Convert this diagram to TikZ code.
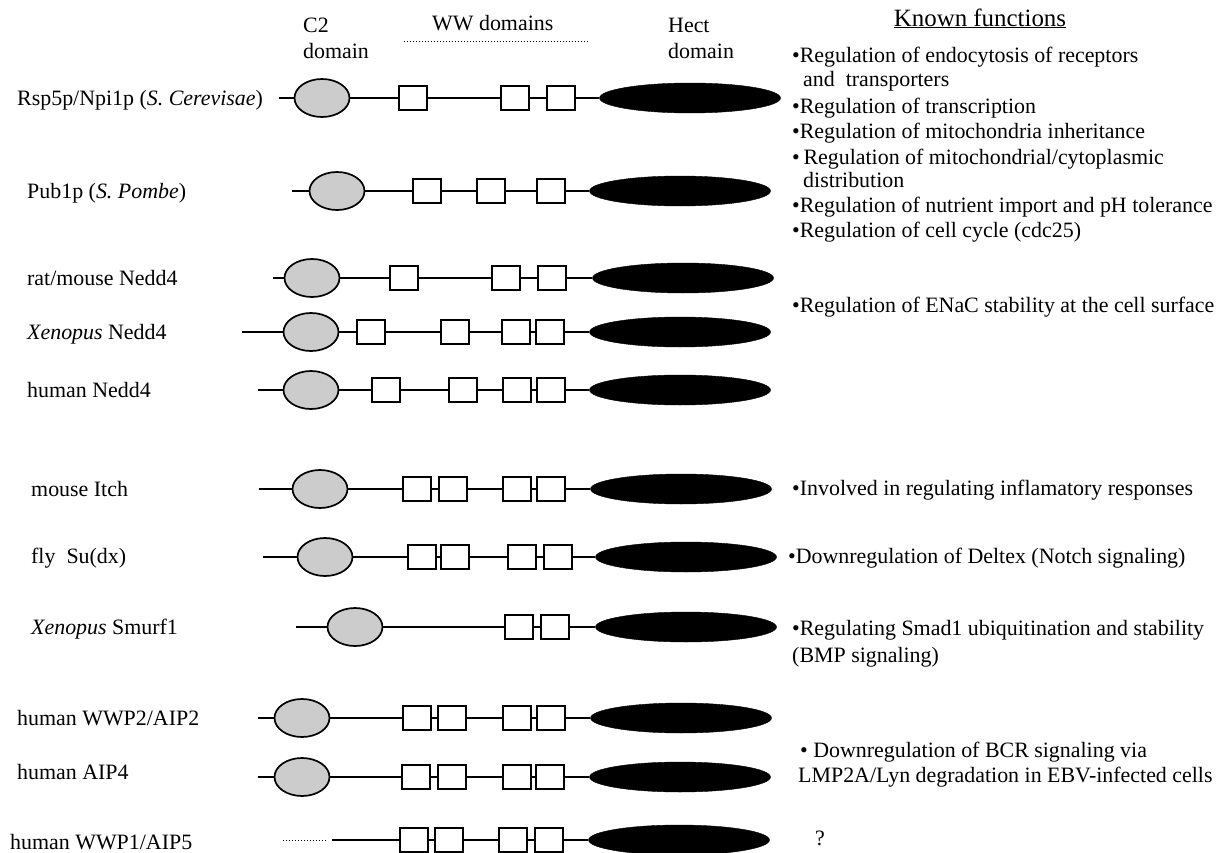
\documentclass[tikz,border=0pt]{standalone}
\usepackage{fontspec}
\setmainfont{Liberation Serif}
\usetikzlibrary{shapes.geometric}
\tikzset{
  txt/.style={inner sep=0pt, anchor=base west, font=\fontsize{22}{24}\selectfont},
  ln/.style={line width=1.8bp},
  ctwo/.style={ellipse, draw, line width=1.7bp, fill=black!20, minimum width=55bp, minimum height=38bp, inner sep=0pt},
  wwbox/.style={rectangle, draw, line width=1.7bp, fill=white, minimum width=28bp, minimum height=24bp, inner sep=0pt},
  hectel/.style={ellipse, fill=black, draw=black, minimum width=181bp, minimum height=30bp, inner sep=0pt},
}
\begin{document}
\begin{tikzpicture}[x=1bp,y=-1bp]
\useasboundingbox (0,0) rectangle (1225,853);
\fill[white] (0,0) rectangle (1225,853);

% header
\node[txt] (hc2a) at (303,32) {C2};
\node[txt] (hc2b) at (303,58) {domain};
\node[txt] (hww) at (432,30) {WW domains};
\coordinate (wwl) at (404,41);
\coordinate (wwr) at (589,41);
\draw[dotted, line width=1bp] (wwl) -- (wwr);
\node[txt] (hha) at (668,32) {Hect};
\node[txt] (hhb) at (668,58) {domain};
\node[txt, anchor=base, font=\fontsize{25}{27}\selectfont] (hkf) at (980,26) {\underline{Known functions}};

% row labels
\node[txt] (l1) at (17,105) {Rsp5p/Npi1p (\textit{S. Cerevisae})};
\node[txt] (l2) at (27,198) {Pub1p (\textit{S. Pombe})};
\node[txt] (l3) at (27,285) {rat/mouse Nedd4};
\node[txt] (l4) at (27,339) {\textit{Xenopus} Nedd4};
\node[txt] (l5) at (27,397) {human Nedd4};
\node[txt] (l6) at (31,496) {mouse Itch};
\node[txt] (l7) at (31,563) {fly\ \ Su(dx)};
\node[txt] (l8) at (31,634) {\textit{Xenopus} Smurf1};
\node[txt] (l9) at (17,725) {human WWP2/AIP2};
\node[txt] (l10) at (17,779) {human AIP4};
\node[txt] (l11) at (10,849) {human WWP1/AIP5};

% row 1
\coordinate (s1) at (279,98);
\node[ctwo] (r1c) at (322,98) {};
\node[wwbox] (r1b1) at (413,98) {};
\node[wwbox] (r1b2) at (515,98) {};
\node[wwbox] (r1b3) at (561,98) {};
\node[hectel] (r1h) at (690,98) {};
\draw[ln] (s1) -- (r1c) -- (r1b1) -- (r1b2) -- (r1b3) -- (r1h);

% row 2
\coordinate (s2) at (292,191);
\node[ctwo] (r2c) at (337,191) {};
\node[wwbox] (r2b1) at (427,191) {};
\node[wwbox] (r2b2) at (491,191) {};
\node[wwbox] (r2b3) at (551,191) {};
\node[hectel] (r2h) at (680,191) {};
\draw[ln] (s2) -- (r2c) -- (r2b1) -- (r2b2) -- (r2b3) -- (r2h);

% row 3
\coordinate (s3) at (273,278);
\node[ctwo] (r3c) at (312,278) {};
\node[wwbox] (r3b1) at (404,278) {};
\node[wwbox] (r3b2) at (506,278) {};
\node[wwbox] (r3b3) at (552,278) {};
\node[hectel] (r3h) at (683,278) {};
\draw[ln] (s3) -- (r3c) -- (r3b1) -- (r3b2) -- (r3b3) -- (r3h);

% row 4
\coordinate (s4) at (242,332);
\node[ctwo] (r4c) at (311,332) {};
\node[wwbox] (r4b1) at (371,332) {};
\node[wwbox] (r4b2) at (455,332) {};
\node[wwbox] (r4b3) at (516,332) {};
\node[wwbox] (r4b4) at (550,332) {};
\node[hectel] (r4h) at (680,332) {};
\draw[ln] (s4) -- (r4c) -- (r4b1) -- (r4b2) -- (r4b3) -- (r4b4) -- (r4h);

% row 5
\coordinate (s5) at (258,390);
\node[ctwo] (r5c) at (311,390) {};
\node[wwbox] (r5b1) at (386,390) {};
\node[wwbox] (r5b2) at (463,390) {};
\node[wwbox] (r5b3) at (517,390) {};
\node[wwbox] (r5b4) at (551,390) {};
\node[hectel] (r5h) at (680,390) {};
\draw[ln] (s5) -- (r5c) -- (r5b1) -- (r5b2) -- (r5b3) -- (r5b4) -- (r5h);

% row 6
\coordinate (s6) at (259,489);
\node[ctwo] (r6c) at (320,489) {};
\node[wwbox] (r6b1) at (417,489) {};
\node[wwbox] (r6b2) at (453,489) {};
\node[wwbox] (r6b3) at (517,489) {};
\node[wwbox] (r6b4) at (551,489) {};
\node[hectel] (r6h) at (681,489) {};
\draw[ln] (s6) -- (r6c) -- (r6b1) -- (r6b2) -- (r6b3) -- (r6b4) -- (r6h);

% row 7
\coordinate (s7) at (263,557);
\node[ctwo] (r7c) at (325,557) {};
\node[wwbox] (r7b1) at (422,557) {};
\node[wwbox] (r7b2) at (455,557) {};
\node[wwbox] (r7b3) at (522,557) {};
\node[wwbox] (r7b4) at (558,557) {};
\node[hectel] (r7h) at (686,557) {};
\draw[ln] (s7) -- (r7c) -- (r7b1) -- (r7b2) -- (r7b3) -- (r7b4) -- (r7h);

% row 8
\coordinate (s8) at (296,627);
\node[ctwo] (r8c) at (355,627) {};
\node[wwbox] (r8b1) at (519,627) {};
\node[wwbox] (r8b2) at (555,627) {};
\node[hectel] (r8h) at (686,627) {};
\draw[ln] (s8) -- (r8c) -- (r8b1) -- (r8b2) -- (r8h);

% row 9
\coordinate (s9) at (258,718);
\node[ctwo] (r9c) at (302,718) {};
\node[wwbox] (r9b1) at (417,718) {};
\node[wwbox] (r9b2) at (452,718) {};
\node[wwbox] (r9b3) at (517,718) {};
\node[wwbox] (r9b4) at (551,718) {};
\node[hectel] (r9h) at (681,718) {};
\draw[ln] (s9) -- (r9c) -- (r9b1) -- (r9b2) -- (r9b3) -- (r9b4) -- (r9h);

% row 10
\coordinate (s10) at (258,777);
\node[ctwo] (r10c) at (302,777) {};
\node[wwbox] (r10b1) at (416,777) {};
\node[wwbox] (r10b2) at (452,777) {};
\node[wwbox] (r10b3) at (517,777) {};
\node[wwbox] (r10b4) at (550,777) {};
\node[hectel] (r10h) at (680,777) {};
\draw[ln] (s10) -- (r10c) -- (r10b1) -- (r10b2) -- (r10b3) -- (r10b4) -- (r10h);

% row 11
\coordinate (d11a) at (283,840);
\coordinate (d11b) at (325,840);
\draw[dotted, line width=1bp] (d11a) -- (d11b);
\coordinate (s11) at (332,840);
\node[wwbox] (r11b1) at (414,840) {};
\node[wwbox] (r11b2) at (449,840) {};
\node[wwbox] (r11b3) at (513,840) {};
\node[wwbox] (r11b4) at (549,840) {};
\node[hectel] (r11h) at (679,840) {};
\draw[ln] (s11) -- (r11b1) -- (r11b2) -- (r11b3) -- (r11b4) -- (r11h);

% known functions
\node[txt] (f1a) at (792,62) {•Regulation of endocytosis of receptors};
\node[txt] (f1b) at (803,86) {and\ \ transporters};
\node[txt] (f2) at (792,113) {•Regulation of transcription};
\node[txt] (f3) at (792,138) {•Regulation of mitochondria inheritance};
\node[txt] (f4a) at (792,164) {•\,Regulation of mitochondrial/cytoplasmic};
\node[txt] (f4b) at (803,187) {distribution};
\node[txt] (f5) at (792,212) {•Regulation of nutrient import and pH tolerance};
\node[txt] (f6) at (792,237) {•Regulation of cell cycle (cdc25)};
\node[txt] (f7) at (792,312) {•Regulation of ENaC stability at the cell surface};
\node[txt] (f8) at (792,495) {•Involved in regulating inflamatory responses};
\node[txt] (f9) at (788,563) {•Downregulation of Deltex (Notch signaling)};
\node[txt] (f10a) at (792,635) {•Regulating Smad1 ubiquitination and stability};
\node[txt] (f10b) at (792,662) {(BMP signaling)};
\node[txt] (f11a) at (800,757) {• Downregulation of BCR signaling via};
\node[txt] (f11b) at (798,782) {LMP2A/Lyn degradation in EBV-infected cells};
\node[txt] (f12) at (815,845) {?};
\end{tikzpicture}
\end{document}
